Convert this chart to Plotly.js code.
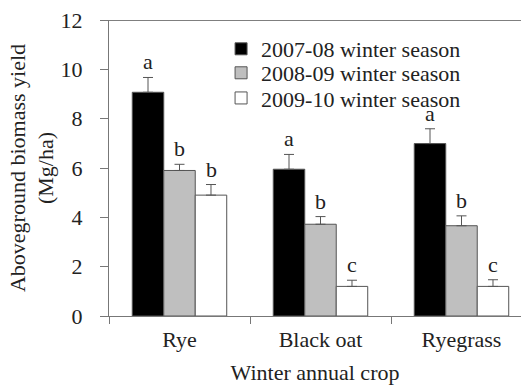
<!DOCTYPE html>
<html>
<head>
<meta charset="utf-8">
<script src="https://cdn.plot.ly/plotly-3.0.1.min.js"></script>
<style>html,body{margin:0;padding:0;background:#fff;}#chart{width:521px;height:385px;}</style>
</head>
<body>
<div id="chart"></div>
<script>
const crops = ["Rye", "Black oat", "Ryegrass"];
const seasons = ["2007-08 winter season", "2008-09 winter season", "2009-10 winter season"];
const yield0708 = [9.07, 5.95, 6.99];
const yield0809 = [5.90, 3.72, 3.66];
const yield0910 = [4.90, 1.20, 1.20];
const err0708 = [0.60, 0.60, 0.60];
const err0809 = [0.25, 0.31, 0.40];
const err0910 = [0.43, 0.25, 0.27];
const letters0708 = ["a", "a", "a"];
const letters0809 = ["b", "b", "b"];
const letters0910 = ["b", "c", "c"];

const values = [yield0708, yield0809, yield0910];
const errs = [err0708, err0809, err0910];
const letters = [letters0708, letters0809, letters0910];
const fills = ["#000000", "#bfbfbf", "#ffffff"];
const FONT = "Liberation Serif";
const SZ = 22;
const legendIds = ["legend", "legend2", "legend3"];
const legendY = [0.902, 0.821, 0.736];

const traces = values.map((v, i) => ({
  type: "bar",
  name: seasons[i],
  legend: legendIds[i],
  x: crops,
  y: v,
  marker: {color: fills[i], line: {color: "#555555", width: 1}},
  error_y: {type: "data", symmetric: false, array: errs[i], arrayminus: errs[i].map(() => 0),
            color: "#555555", thickness: 1, width: 5}
}));

const shifts = [-31.5, 0, 31.5];
const annotations = [];
values.forEach((v, i) => {
  v.forEach((val, j) => {
    annotations.push({
      x: crops[j], y: val + errs[i][j], xref: "x", yref: "y",
      text: letters[i][j], showarrow: false, xshift: shifts[i], yanchor: "bottom", yshift: 1,
      font: {family: FONT, size: SZ, color: "#222"}
    });
  });
});

const layout = {
  width: 521, height: 385,
  margin: {l: 109, r: 0, t: 20, b: 69},
  paper_bgcolor: "#fff", plot_bgcolor: "#fff",
  font: {family: FONT, size: SZ, color: "#222"},
  barmode: "group",
  bargap: 0.33,
  bargroupgap: 0,
  showlegend: true,
  xaxis: {
    type: "category", range: [-0.5, 2.422],
    showline: true, linecolor: "#777", linewidth: 1,
    ticks: "outside", tickson: "boundaries", ticklen: 7, tickcolor: "#777",
    showgrid: false, zeroline: false, ticklabelstandoff: 4,
    tickfont: {family: FONT, size: SZ, color: "#222"},
    title: {text: "Winter annual crop", font: {family: FONT, size: SZ, color: "#222"}, standoff: 20}
  },
  yaxis: {
    range: [0, 12], dtick: 2, tick0: 0,
    showline: true, linecolor: "#777", linewidth: 1,
    ticks: "outside", ticklen: 8, tickcolor: "#777",
    showgrid: false, zeroline: false, ticklabelstandoff: 13,
    tickfont: {family: FONT, size: SZ, color: "#222"},
    title: {text: "Aboveground biomass yield<br>(Mg/ha)", font: {family: FONT, size: SZ, color: "#222"}, standoff: 0}
  },
  shapes: [{type: "line", xref: "paper", yref: "y", x0: 0, x1: 1, y0: 12, y1: 12,
            line: {color: "#000", width: 1}}],
  annotations: annotations
};
legendIds.forEach((id, i) => {
  layout[id] = {x: 0.272, y: legendY[i], xanchor: "left", yanchor: "middle",
                bgcolor: "rgba(0,0,0,0)", itemwidth: 30,
                font: {family: FONT, size: SZ, color: "#222"}};
});

Plotly.newPlot("chart", traces, layout, {displayModeBar: false, staticPlot: true});
</script>
</body>
</html>
